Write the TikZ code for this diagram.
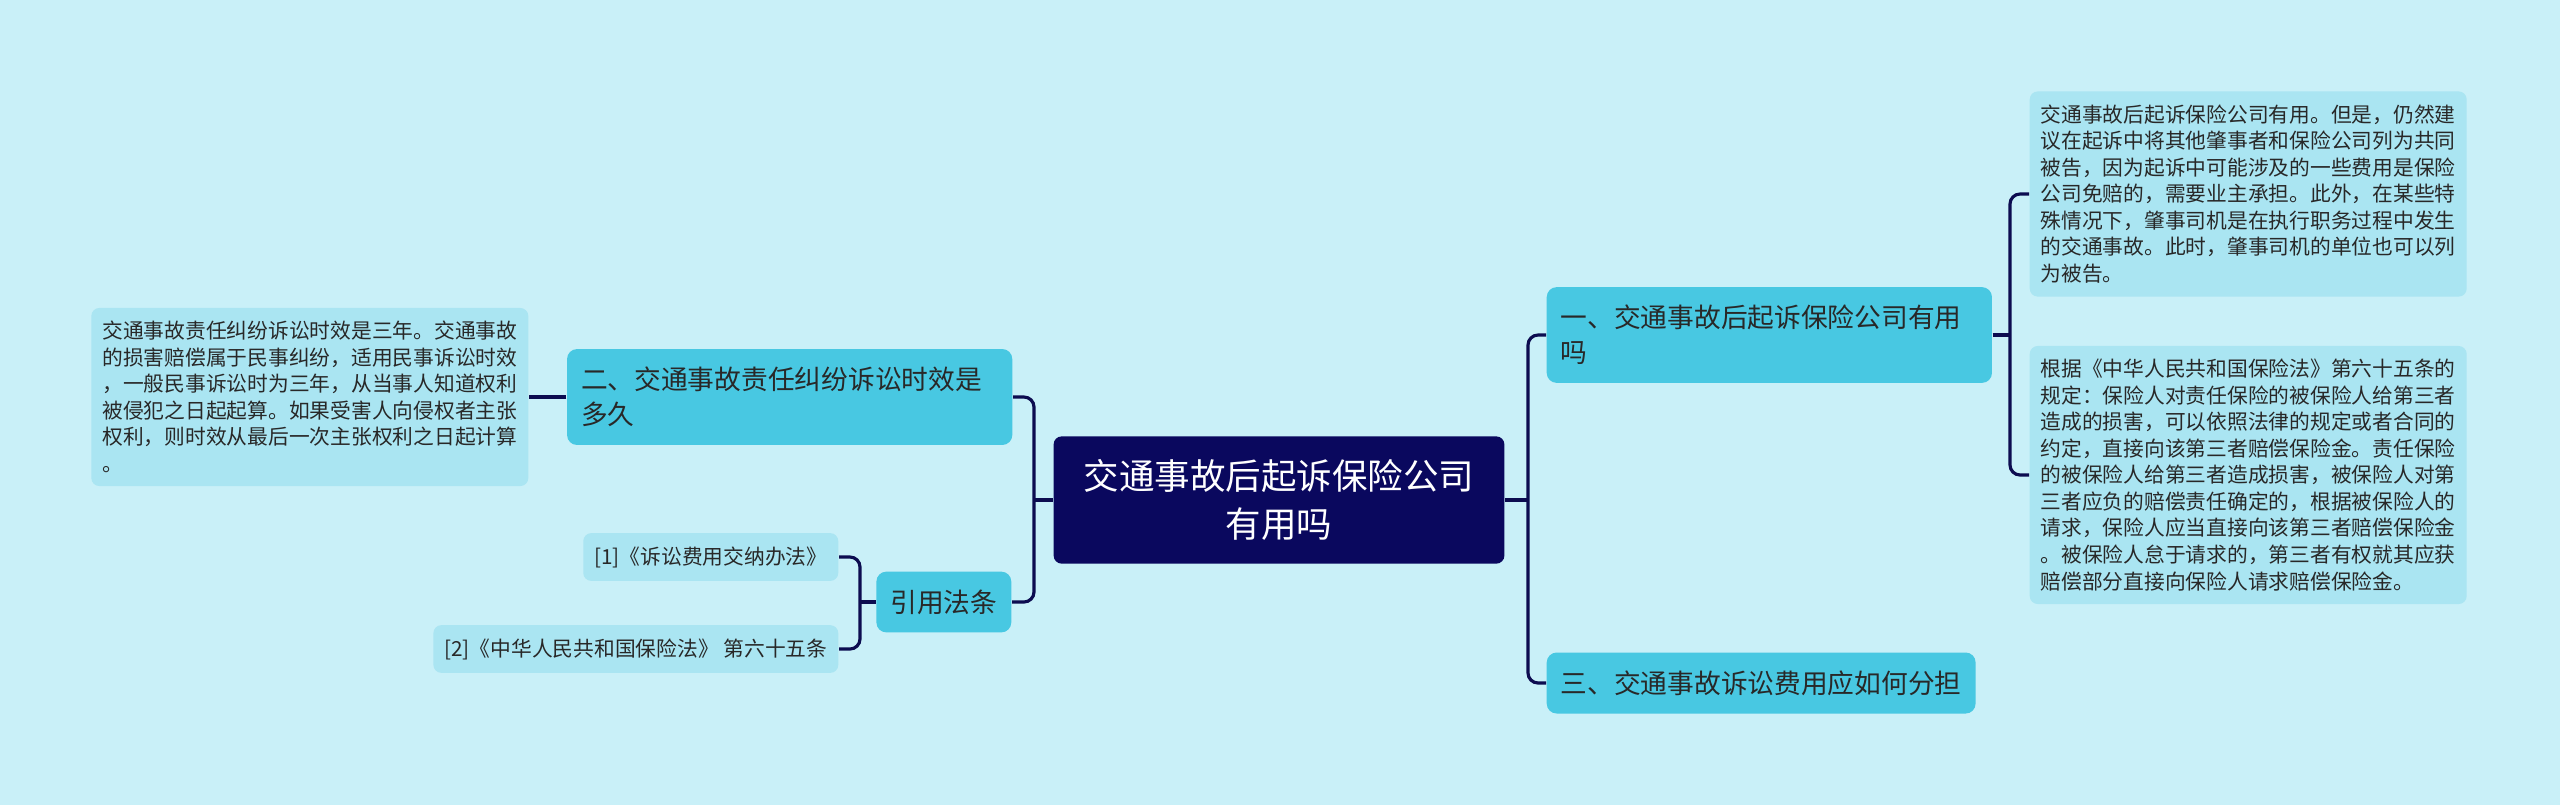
\documentclass[tikz,border=0pt]{standalone}
\usepackage{fontspec}
\setmainfont{Noto Sans CJK SC}
\definecolor{bgcol}{RGB}{201,240,248}
\definecolor{rootcol}{RGB}{10,8,94}
\definecolor{branchcol}{RGB}{72,200,226}
\definecolor{leafcol}{RGB}{170,229,242}
\definecolor{txtcol}{RGB}{40,40,40}
\definecolor{linecol}{RGB}{12,12,80}
\begin{document}
\begin{tikzpicture}[x=0.01cm, y=-0.01cm,
  rootbox/.style={fill=rootcol, text=white, rounded corners=0.08cm, align=center, inner xsep=0.3cm, inner ysep=0.23cm, font=\fontsize{10.1pt}{13.66pt}\selectfont},
  branchbox/.style={fill=branchcol, text=txtcol, rounded corners=0.1cm, align=left, inner xsep=0.14cm, inner ysep=0.18cm, font=\fontsize{7.6pt}{9.96pt}\selectfont},
  leafbox/.style={fill=leafcol, text=txtcol, rounded corners=0.08cm, align=left, inner xsep=0.11cm, inner ysep=0.133cm, font=\fontsize{5.9pt}{7.54pt}\selectfont},
  link/.style={draw=linecol, line width=0.9pt, rounded corners=0.1cm}]
\fill[bgcol] (0,0) rectangle (2560,805);
\node[rootbox] (root) at (1279,500) {交通事故后起诉保险公司\\有用吗};
\node[branchbox, text width=4.17cm, anchor=west] (b1) at (1546,335) {一、交通事故后起诉保险公司有用\\吗};
\node[branchbox, anchor=west] (b3) at (1546,683) {三、交通事故诉讼费用应如何分担};
\node[branchbox, text width=4.17cm, anchor=east] (b2) at (1013,397) {二、交通事故责任纠纷诉讼时效是\\多久};
\node[branchbox, anchor=east] (cite) at (1012,602) {引用法条};
\node[leafbox, anchor=west] (r1) at (2029,194) {交通事故后起诉保险公司有用。但是，仍然建\\议在起诉中将其他肇事者和保险公司列为共同\\被告，因为起诉中可能涉及的一些费用是保险\\公司免赔的，需要业主承担。此外，在某些特\\殊情况下，肇事司机是在执行职务过程中发生\\的交通事故。此时，肇事司机的单位也可以列\\为被告。};
\node[leafbox, anchor=west] (r2) at (2029,475) {根据《中华人民共和国保险法》第六十五条的\\规定：保险人对责任保险的被保险人给第三者\\造成的损害，可以依照法律的规定或者合同的\\约定，直接向该第三者赔偿保险金。责任保险\\的被保险人给第三者造成损害，被保险人对第\\三者应负的赔偿责任确定的，根据被保险人的\\请求，保险人应当直接向该第三者赔偿保险金\\。被保险人怠于请求的，第三者有权就其应获\\赔偿部分直接向保险人请求赔偿保险金。};
\node[leafbox, anchor=east] (lf) at (529,397) {交通事故责任纠纷诉讼时效是三年。交通事故\\的损害赔偿属于民事纠纷，适用民事诉讼时效\\，一般民事诉讼时为三年，从当事人知道权利\\被侵犯之日起起算。如果受害人向侵权者主张\\权利，则时效从最后一次主张权利之日起计算\\。};
\node[leafbox, anchor=east] (c1) at (839,557) {[1]《诉讼费用交纳办法》};
\node[leafbox, anchor=east] (c2) at (839,649) {[2]《中华人民共和国保险法》 第六十五条};
\coordinate (rj) at (1528,500);
\coordinate (lj) at (1034,500);
\coordinate (rj2) at (2010,335);
\coordinate (cj) at (860,602);
\draw[link] (root.east) -- (rj);
\draw[link] (b1.west) -| (rj) |- (b3.west);
\draw[link] (root.west) -- (lj);
\draw[link] (b2.east) -| (lj) |- (cite.east);
\draw[link] (b1.east) -- (rj2);
\draw[link] (r1.west) -| (rj2) |- (r2.west);
\draw[link] (b2.west) -- (lf.east);
\draw[link] (cite.west) -- (cj);
\draw[link] (c1.east) -| (cj) |- (c2.east);
\end{tikzpicture}
\end{document}
